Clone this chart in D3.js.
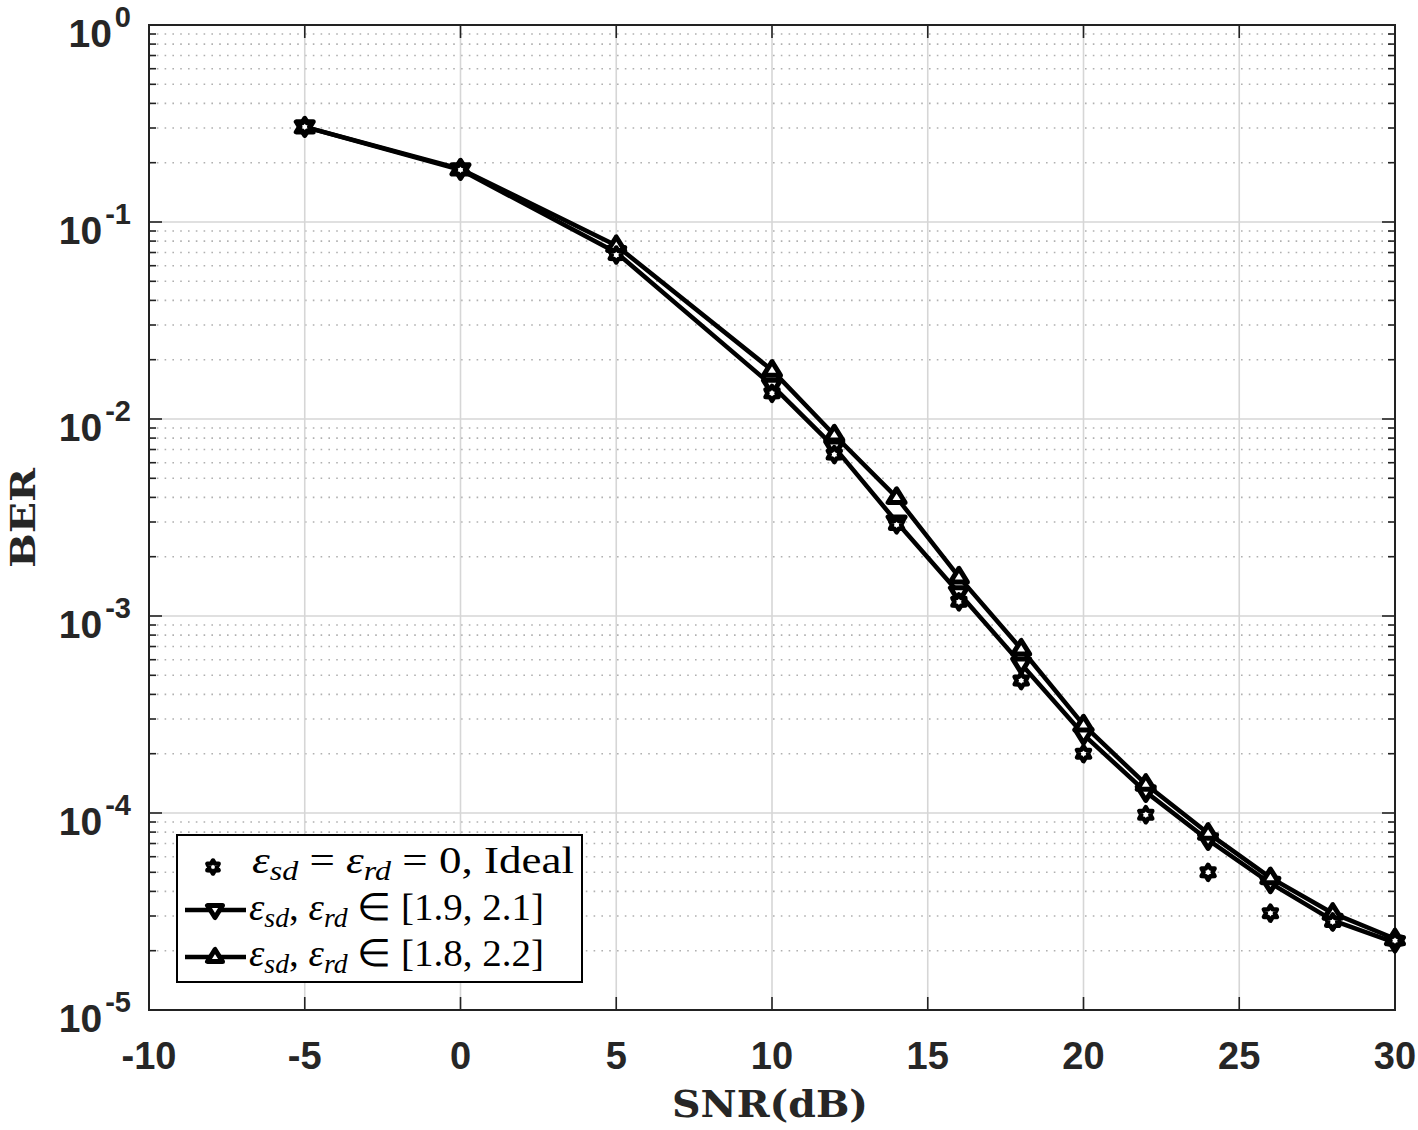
<!DOCTYPE html>
<html><head><meta charset="utf-8">
<script src="https://cdn.jsdelivr.net/npm/d3@7"></script>
<style>body{margin:0;background:#fff}</style>
</head><body>
<svg id="c" width="1418" height="1130"></svg>
<script>
const snr = [-5, 0, 5, 10, 12, 14, 16, 18, 20, 22, 24, 26, 28, 30];
const berIdeal = [0.304, 0.184, 0.068, 0.0135, 0.0066, 0.0029, 0.00118, 4.7e-4, 2.0e-4, 9.8e-5, 5.0e-5, 3.1e-5, 2.8e-5, 2.25e-5];
const ber19_21 = [0.304, 0.184, 0.070, 0.0148, 0.0072, 0.0030, 0.00131, 5.7e-4, 2.5e-4, 1.28e-4, 7.3e-5, 4.4e-5, 2.85e-5, 2.2e-5];
const ber18_22 = [0.304, 0.186, 0.076, 0.0177, 0.0083, 0.0040, 0.00158, 6.8e-4, 2.8e-4, 1.40e-4, 7.9e-5, 4.7e-5, 3.1e-5, 2.3e-5];
const xTicks = [-10, -5, 0, 5, 10, 15, 20, 25, 30];
const yExps = [0, -1, -2, -3, -4, -5];

const svg = d3.select("#c");
const L = 149, R = 1395, T = 25, B = 1010;
const x = d3.scaleLinear().domain([-10, 30]).range([L, R]);
const y = d3.scaleLog().domain([1e-5, 1]).range([B, T]);

// grid
const g = svg.append("g");
const minorVals = [];
for (let e = -5; e < 0; e++) for (let k = 2; k <= 9; k++) minorVals.push(k * Math.pow(10, e));
g.selectAll(".mg").data(minorVals).enter().append("line")
  .attr("x1", L).attr("x2", R).attr("y1", d => y(d)).attr("y2", d => y(d))
  .attr("stroke", "#b0b0b0").attr("stroke-width", 1.6).attr("stroke-dasharray", "1.6,6.2");
g.selectAll(".Mg").data(yExps).enter().append("line")
  .attr("x1", L).attr("x2", R).attr("y1", d => y(Math.pow(10, d))).attr("y2", d => y(Math.pow(10, d)))
  .attr("stroke", "#d6d6d6").attr("stroke-width", 1.6);
g.selectAll(".Vg").data(xTicks).enter().append("line")
  .attr("y1", T).attr("y2", B).attr("x1", d => x(d)).attr("x2", d => x(d))
  .attr("stroke", "#d6d6d6").attr("stroke-width", 1.6);

// ticks (inward)
const tk = svg.append("g").attr("stroke", "#222").attr("stroke-width", 1.6);
xTicks.forEach(v => {
  tk.append("line").attr("x1", x(v)).attr("x2", x(v)).attr("y1", B).attr("y2", B - 13);
  tk.append("line").attr("x1", x(v)).attr("x2", x(v)).attr("y1", T).attr("y2", T + 13);
});
yExps.forEach(e => {
  const yy = y(Math.pow(10, e));
  tk.append("line").attr("x1", L).attr("x2", L + 13).attr("y1", yy).attr("y2", yy);
  tk.append("line").attr("x1", R).attr("x2", R - 13).attr("y1", yy).attr("y2", yy);
});
minorVals.forEach(v => {
  const yy = y(v);
  tk.append("line").attr("x1", L).attr("x2", L + 7).attr("y1", yy).attr("y2", yy);
  tk.append("line").attr("x1", R).attr("x2", R - 7).attr("y1", yy).attr("y2", yy);
});

// box
svg.append("rect").attr("x", L).attr("y", T).attr("width", R - L).attr("height", B - T)
  .attr("fill", "none").attr("stroke", "#222").attr("stroke-width", 2);

// tick labels
const sans = "'Liberation Sans', Arial, sans-serif";
svg.append("g").selectAll("text").data(xTicks).enter().append("text")
  .attr("x", d => x(d)).attr("y", 1069).attr("text-anchor", "middle")
  .attr("font-family", sans).attr("font-weight", "bold").attr("font-size", 38).attr("fill", "#262626")
  .text(d => d);
yExps.forEach(e => {
  const t = svg.append("text").attr("x", 131).attr("y", y(Math.pow(10, e)) + 22)
    .attr("text-anchor", "end").attr("font-family", sans).attr("font-weight", "bold")
    .attr("font-size", 39).attr("fill", "#262626");
  t.append("tspan").text("10");
  t.append("tspan").attr("dx", 3).attr("dy", -20).attr("font-size", 29).text(String(e));
});

// axis labels
const serif = "'DejaVu Serif', 'Liberation Serif', serif";
svg.append("text").attr("x", 770).attr("y", 1117).attr("text-anchor", "middle")
  .attr("font-family", serif).attr("font-weight", "bold").attr("font-size", 37).attr("fill", "#262626")
  .attr("textLength", 196).attr("lengthAdjust", "spacingAndGlyphs")
  .text("SNR(dB)");
svg.append("text").attr("transform", `translate(35,518) rotate(-90)`).attr("text-anchor", "middle")
  .attr("font-family", serif).attr("font-weight", "bold").attr("font-size", 34).attr("fill", "#262626")
  .attr("textLength", 100).attr("lengthAdjust", "spacingAndGlyphs")
  .text("BER");

// markers
function hexagram(r) {
  const pts = [];
  for (let i = 0; i < 12; i++) {
    const a = -Math.PI / 2 + i * Math.PI / 6;
    const rr = i % 2 === 0 ? r : r * 0.6;
    pts.push([rr * Math.cos(a), rr * Math.sin(a)]);
  }
  return "M" + pts.map(p => p.join(",")).join("L") + "Z";
}
function triDown(r) { return `M${-r},${-r * 0.6}L${r},${-r * 0.6}L0,${r}Z`; }
function triUp(r) { return `M${-r},${r * 0.6}L${r},${r * 0.6}L0,${-r}Z`; }

const line = d3.line().x(d => x(d[0])).y(d => y(d[1]));
const series = [
  { vals: ber19_21, sym: triDown(8.5) },
  { vals: ber18_22, sym: triUp(8.5) }
];
const plot = svg.append("g");
series.forEach(s => {
  const pts = snr.map((v, i) => [v, s.vals[i]]);
  plot.append("path").attr("d", line(pts)).attr("fill", "none").attr("stroke", "#000").attr("stroke-width", 4.5)
    .attr("stroke-linejoin", "round");
});
series.forEach(s => {
  plot.selectAll(null).data(snr.map((v, i) => [v, s.vals[i]])).enter().append("path")
    .attr("d", s.sym).attr("transform", d => `translate(${x(d[0])},${y(d[1])})`)
    .attr("fill", "#fff").attr("stroke", "#000").attr("stroke-width", 5).attr("stroke-linejoin", "round");
});
plot.selectAll(null).data(snr.map((v, i) => [v, berIdeal[i]])).enter().append("path")
  .attr("d", hexagram(7.5)).attr("transform", d => `translate(${x(d[0])},${y(d[1])})`)
  .attr("fill", "#fff").attr("stroke", "#000").attr("stroke-width", 4.5).attr("stroke-linejoin", "round");

// legend
const lg = svg.append("g");
lg.append("rect").attr("x", 177).attr("y", 835).attr("width", 405).attr("height", 147)
  .attr("fill", "#fff").attr("stroke", "#000").attr("stroke-width", 2);
const rowsY = [867, 910, 957];
lg.append("path").attr("d", hexagram(6.5)).attr("transform", `translate(213,${rowsY[0]})`)
  .attr("fill", "#fff").attr("stroke", "#000").attr("stroke-width", 4.5).attr("stroke-linejoin", "round");
[[triDown(7.5), rowsY[1]], [triUp(7.5), rowsY[2]]].forEach(([sym, yy]) => {
  lg.append("line").attr("x1", 185).attr("x2", 246).attr("y1", yy).attr("y2", yy).attr("stroke", "#000").attr("stroke-width", 4.5);
  lg.append("path").attr("d", sym).attr("transform", `translate(215,${yy})`).attr("fill", "#fff").attr("stroke", "#000")
    .attr("stroke-width", 5).attr("stroke-linejoin", "round");
});
const lserif = "'Liberation Serif', serif";
function legText(yy, xx, len, parts) {
  const t = lg.append("text").attr("x", xx).attr("y", yy).attr("font-family", lserif).attr("font-size", 38).attr("fill", "#000")
    .attr("textLength", len).attr("lengthAdjust", "spacingAndGlyphs");
  parts.forEach(p => {
    const ts = t.append("tspan").text(p.t);
    if (p.i) ts.attr("font-style", "italic");
    if (p.sub) ts.attr("font-size", 27).attr("dy", 7).attr("font-style", "italic");
    if (p.up) ts.attr("dy", -7);
  });
}
legText(873, 252, 322, [{ t: "ε", i: 1 }, { t: "sd", sub: 1 }, { t: " = ", up: 1 }, { t: "ε", i: 1 }, { t: "rd", sub: 1 }, { t: " = 0,  Ideal", up: 1 }]);
legText(920, 249, 295, [{ t: "ε", i: 1 }, { t: "sd", sub: 1 }, { t: ", ", up: 1 }, { t: "ε", i: 1 }, { t: "rd", sub: 1 }, { t: " ∈ [1.9, 2.1]", up: 1 }]);
legText(966, 249, 295, [{ t: "ε", i: 1 }, { t: "sd", sub: 1 }, { t: ", ", up: 1 }, { t: "ε", i: 1 }, { t: "rd", sub: 1 }, { t: " ∈ [1.8, 2.2]", up: 1 }]);
</script>
</body></html>
